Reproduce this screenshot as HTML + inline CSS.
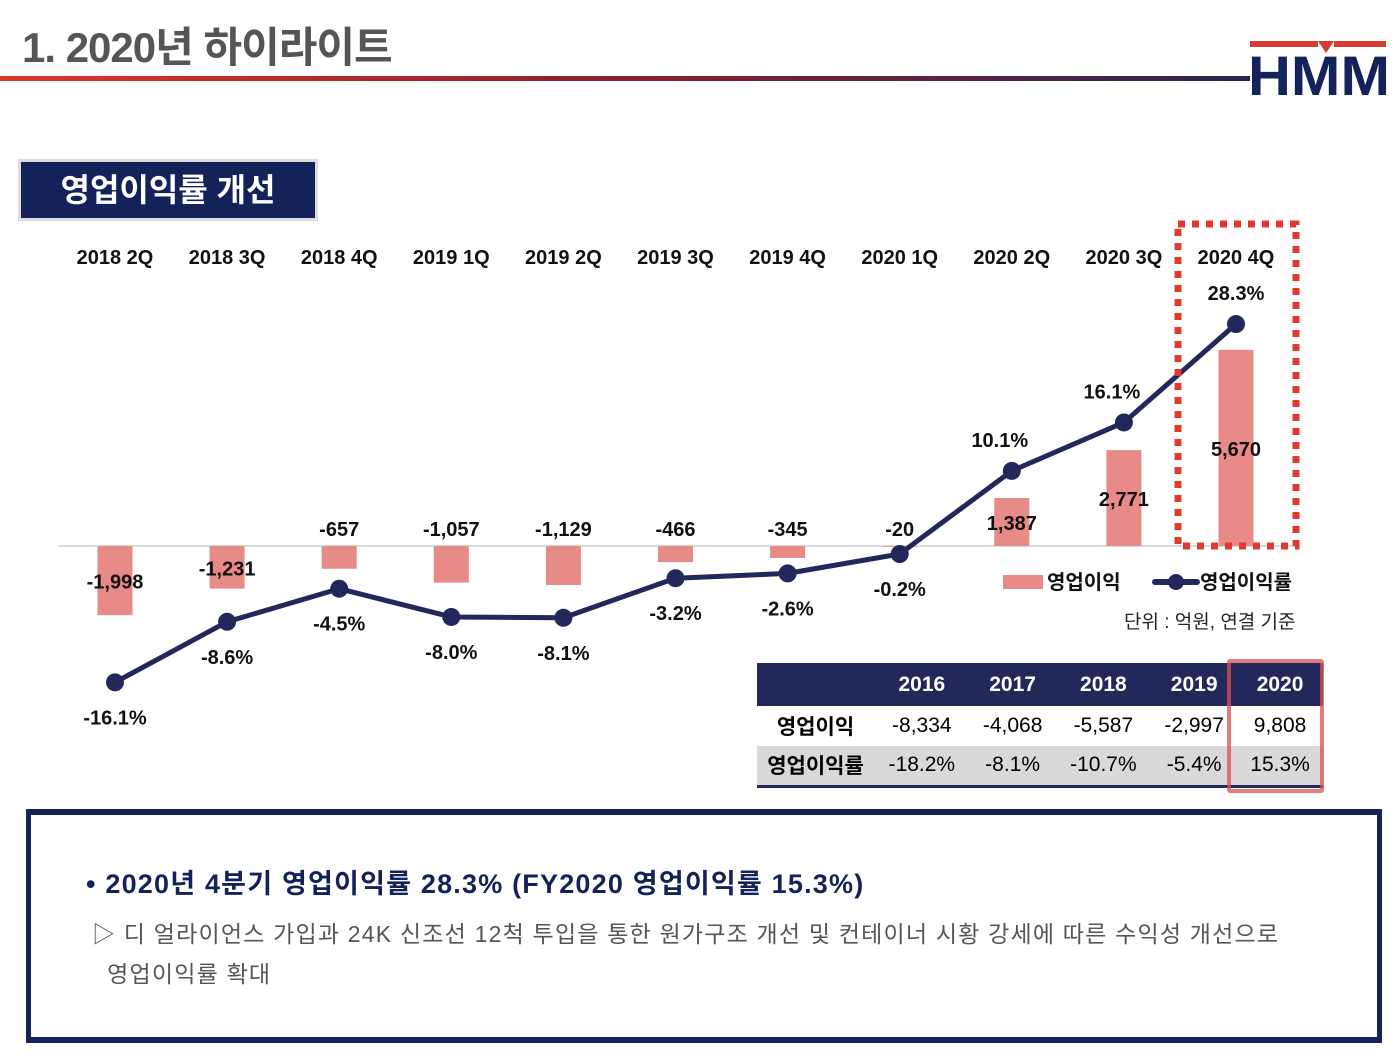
<!DOCTYPE html>
<html><head><meta charset="utf-8">
<style>
body{margin:0;width:1400px;height:1060px;background:#fff;position:relative;overflow:hidden;font-family:"Liberation Sans","Noto Sans CJK KR",sans-serif;}
.abs{position:absolute;}
</style></head><body>
<div class="abs" style="left:22px;top:14px;font-size:42px;font-weight:bold;color:#555;letter-spacing:-1px">1. 2020년 하이라이트</div>
<div class="abs" style="left:0;top:76px;width:1250px;height:5px;background:linear-gradient(90deg,#e0352a,#8a2030 50%,#2a2550)"></div>
<svg class="abs" style="left:1248px;top:38px" width="152" height="64">
<rect x="2" y="3" width="68" height="6" fill="#d93a33"/><rect x="86" y="3" width="52" height="6" fill="#d93a33"/>
<polygon points="70,3 86,3 78,15" fill="#d93a33"/>
<text x="0" y="57" font-family="Liberation Sans" font-weight="bold" font-size="56" fill="#13235a" textLength="142" lengthAdjust="spacingAndGlyphs">HMM</text>
</svg>
<div class="abs" style="left:18px;top:159px;width:294px;height:56px;background:#13235a;border:3px solid #ddd;color:#fff;font-size:32px;font-weight:bold;text-align:center;line-height:56px">영업이익률 개선</div>

<svg class="abs" id="chart" style="left:0;top:0" width="1400" height="800"></svg>

<div class="abs" style="left:1124px;top:607px;font-size:19px;color:#222">단위 : 억원, 연결 기준</div>

<table class="abs" style="left:757px;top:663px;width:566px;border-collapse:collapse;font-size:21px;text-align:center;border-bottom:3px solid #22285a">
<tr style="background:#22285a;color:#fff;font-weight:bold;height:43px"><td style="width:115px"></td><td>2016</td><td>2017</td><td>2018</td><td>2019</td><td>2020</td></tr>
<tr style="height:40px"><td style="font-weight:bold">영업이익</td><td>-8,334</td><td>-4,068</td><td>-5,587</td><td>-2,997</td><td>9,808</td></tr>
<tr style="height:40px;background:#d9d9d9"><td style="font-weight:bold">영업이익률</td><td>-18.2%</td><td>-8.1%</td><td>-10.7%</td><td>-5.4%</td><td>15.3%</td></tr>
</table>
<div class="abs" style="left:1227px;top:659px;width:89px;height:126px;border:4px solid rgba(220,80,80,0.75);border-radius:3px"></div>

<div class="abs" style="left:26px;top:809px;width:1346px;height:222px;border:5px solid #13235a;border-top-width:6px;border-bottom-width:6px"></div>
<div class="abs" style="left:86px;top:862px;font-size:27px;font-weight:bold;color:#13235a;letter-spacing:1.2px;white-space:nowrap">• 2020년 4분기 영업이익률 28.3% (FY2020 영업이익률 15.3%)</div>
<div class="abs" style="left:92px;top:914px;width:1260px;font-size:23px;color:#555;line-height:40px;letter-spacing:1.2px;white-space:nowrap">▷ 디 얼라이언스 가입과 24K 신조선 12척 투입을 통한 원가구조 개선 및 컨테이너 시황 강세에 따른 수익성 개선으로<br>&nbsp;&nbsp;영업이익률 확대</div>

<script>
const categories=["2018 2Q","2018 3Q","2018 4Q","2019 1Q","2019 2Q","2019 3Q","2019 4Q","2020 1Q","2020 2Q","2020 3Q","2020 4Q"];
const profitValues=[-1998,-1231,-657,-1057,-1129,-466,-345,-20,1387,2771,5670];
const marginValues=[-16.1,-8.6,-4.5,-8.0,-8.1,-3.2,-2.6,-0.2,10.1,16.1,28.3];
const profitLabels=["-1,998","-1,231","-657","-1,057","-1,129","-466","-345","-20","1,387","2,771","5,670"];
const marginLabels=["-16.1%","-8.6%","-4.5%","-8.0%","-8.1%","-3.2%","-2.6%","-0.2%","10.1%","16.1%","28.3%"];

const svg=document.getElementById('chart');
const NS='http://www.w3.org/2000/svg';
const xPos=i=>115+i*112.1;
const yBar=v=>546-v*0.0346;
const yLine=v=>552.4-v*8.07;
function mk(tag,attrs,txt){const e=document.createElementNS(NS,tag);for(const k in attrs)e.setAttribute(k,attrs[k]);if(txt!==undefined)e.textContent=txt;svg.appendChild(e);return e;}

let ax=mk('line',{x1:58,x2:1300,y1:546,y2:546,stroke:'#d0d0d0','stroke-width':1.5});



categories.forEach((c,i)=>{
  const t=mk('text',{x:xPos(i),y:264,'text-anchor':'middle','font-size':20,'font-weight':'bold',fill:'#111'},c);
  
  
});

profitValues.forEach((v,i)=>{
  const y0=yBar(0),y1=yBar(v);
  const r=mk('rect',{x:xPos(i)-17.5,y:Math.min(y0,y1),width:35,height:Math.abs(y1-y0),fill:'#e88a87'});
  
  
  const ly=Math.abs(v)>1200?(y0+y1)/2+8:y0-10;
  const t=mk('text',{x:xPos(i),y:ly,'text-anchor':'middle','font-size':20,'font-weight':'bold',fill:'#111'},profitLabels[i]);
  
  
});

const pts=marginValues.map((v,i)=>xPos(i)+','+yLine(v)).join(' ');
const pl=mk('polyline',{points:pts,fill:'none',stroke:'#22285a','stroke-width':5,'stroke-linejoin':'round'});


marginValues.forEach((v,i)=>{
  const c=mk('circle',{cx:xPos(i),cy:yLine(v),r:9,fill:'#22285a'});
  
  
  const ly=v>=0?yLine(v)-24:yLine(v)+42;
  const t=mk('text',{x:xPos(i)-(v>=0&&i<10?12:0),y:ly,'text-anchor':'middle','font-size':20,'font-weight':'bold',fill:'#111'},marginLabels[i]);
  
  
});

const hl=mk('rect',{x:1178,y:224,width:118,height:322,fill:'none',stroke:'#e03a30','stroke-width':7,'stroke-dasharray':'7 7'});



const lb=mk('rect',{x:1003,y:575,width:40,height:14,fill:'#e88a87'});


const lt1=mk('text',{x:1047,y:589,'font-size':20,'font-weight':'bold',fill:'#111'},'영업이익');


const ll=mk('line',{x1:1155,x2:1197,y1:582,y2:582,stroke:'#22285a','stroke-width':6,'stroke-linecap':'round'});


const lc=mk('circle',{cx:1176,cy:582,r:8,fill:'#22285a'});


const lt2=mk('text',{x:1200,y:589,'font-size':20,'font-weight':'bold',fill:'#111'},'영업이익률');


</script>
</body></html>
